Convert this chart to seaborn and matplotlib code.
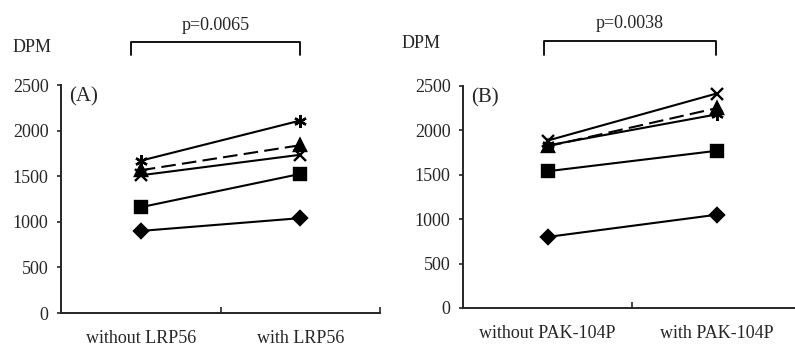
import pandas as pd
import matplotlib.pyplot as plt
import seaborn as sns

# values (DPM)
a_labels = ["without LRP56", "with LRP56"]
a_diamond = [900, 1040]
a_square = [1160, 1525]
a_cross = [1510, 1735]
a_triangle = [1565, 1840]
a_asterisk = [1670, 2110]
a_pvalue = "p=0.0065"

b_labels = ["without PAK-104P", "with PAK-104P"]
b_diamond = [800, 1050]
b_square = [1540, 1770]
b_asterisk = [1830, 2180]
b_triangle = [1820, 2250]
b_cross = [1885, 2415]
b_pvalue = "p=0.0038"

y_ticks = [0, 500, 1000, 1500, 2000, 2500]

sns.set_style("ticks")
plt.rcParams['font.family'] = ['Liberation Serif', 'DejaVu Serif']
plt.rcParams['font.size'] = 13

markers = {"diamond": "D", "square": "s", "cross": "x",
           "triangle": "^", "asterisk": (6, 2, 0)}
sizes = {"diamond": 7, "square": 8, "cross": 8, "triangle": 8, "asterisk": 9}
styles = {"diamond": "-", "square": "-", "cross": "-", "triangle": (0, (7, 3)), "asterisk": "-"}


def draw_panel(ax, series, labels, tag):
    for name, vals in series.items():
        df = pd.DataFrame({"cond": [0, 1], "dpm": vals})
        sns.lineplot(data=df, x="cond", y="dpm", color="black",
                     marker=markers[name], markersize=sizes[name],
                     markeredgewidth=1.7, markeredgecolor="black",
                     linestyle=styles[name], linewidth=1.5, ax=ax)
    ax.set_xlim(-0.5, 1.5)
    ax.set_ylim(0, 2500)
    ax.set_yticks(y_ticks)
    ax.set_xticks([0, 1])
    ax.set_xticklabels(labels)
    ax.set_xticks([0.5, 1.5], minor=True)
    ax.tick_params(axis="x", which="major", length=0, pad=12)
    ax.tick_params(axis="x", which="minor", direction="in", length=4, width=1.2)
    ax.tick_params(axis="y", direction="out", length=3, width=1.2, pad=6)
    ax.set_xlabel("")
    ax.set_ylabel("")
    sns.despine(ax=ax)
    for s in ["left", "bottom"]:
        ax.spines[s].set_linewidth(1.4)
    ax.text(0.025, 0.99, tag, transform=ax.transAxes, fontsize=15,
            ha="left", va="top")


fig = plt.figure(figsize=(7.95, 3.46), dpi=100)
ax_a = fig.add_axes([61 / 795, 33 / 346, 319 / 795, 228 / 346])
ax_b = fig.add_axes([463 / 795, 38 / 346, 338 / 795, 222 / 346])

draw_panel(ax_a, {"diamond": a_diamond, "square": a_square, "cross": a_cross,
                  "triangle": a_triangle, "asterisk": a_asterisk}, a_labels, "(A)")
draw_panel(ax_b, {"diamond": b_diamond, "square": b_square, "asterisk": b_asterisk,
                  "triangle": b_triangle, "cross": b_cross}, b_labels, "(B)")


# DPM labels and significance brackets (figure pixel coords)
def px(x, y):
    return x / 795, 1 - y / 346


fig.text(*px(13, 47), "DPM", ha="left", va="center", fontsize=13)
fig.text(*px(402, 43), "DPM", ha="left", va="center", fontsize=13)

for x0, x1, top, bottom, txt, ty in [(131, 300, 42, 55, a_pvalue, 25),
                                      (544, 716, 41, 55, b_pvalue, 23)]:
    xs = [x0 / 795, x0 / 795, x1 / 795, x1 / 795]
    ys = [1 - bottom / 346, 1 - top / 346, 1 - top / 346, 1 - bottom / 346]
    fig.add_artist(plt.Line2D(xs, ys, color="black", linewidth=1.3))
    fig.text((x0 + x1) / 2 / 795, 1 - ty / 346, txt, ha="center", va="center",
             fontsize=13)

fig.savefig("out.png", dpi=100)
